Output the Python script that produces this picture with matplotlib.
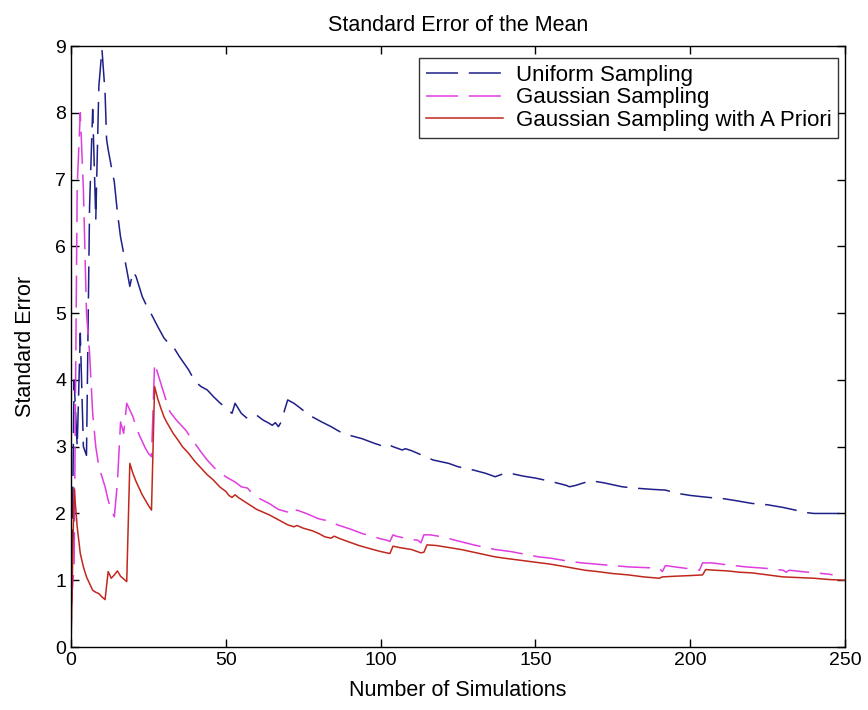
import matplotlib
matplotlib.use("Agg")
import matplotlib.pyplot as plt

plt.rcParams['font.family'] = ['Liberation Sans', 'DejaVu Sans']

title = "Standard Error of the Mean"
xlabel = "Number of Simulations"
ylabel = "Standard Error"
labels = ["Uniform Sampling", "Gaussian Sampling", "Gaussian Sampling with A Priori"]
xticks = [0, 50, 100, 150, 200, 250]
yticks = [0, 1, 2, 3, 4, 5, 6, 7, 8, 9]

uniform_x = [0, 1, 2, 3, 4, 5, 6, 7, 8, 9, 10, 11, 11.5, 12, 13, 14, 15, 16, 17, 18, 19,
             20, 21, 22, 23, 24, 26, 28, 30, 32, 33, 35, 38, 40, 42, 44, 46, 48, 50, 52,
             53, 55, 57, 60, 62, 64, 65, 66, 67, 68, 69, 70, 72, 74, 77, 81, 84, 87, 90,
             94, 98, 100, 101, 102, 104, 107, 108, 110, 113, 117, 122, 125, 130, 134, 137,
             140, 142, 146, 150, 155, 160, 161, 163, 165, 168, 172, 178, 182, 188, 192,
             196, 200, 206, 211, 215, 220, 225, 230, 234, 238, 240, 250]
uniform_y = [0, 4.0, 3.0, 4.7, 3.0, 2.87, 6.6, 8.05, 6.4, 8.4, 8.95, 8.3, 7.6, 7.45, 7.2,
             6.96, 6.5, 6.14, 5.9, 5.65, 5.4, 5.62, 5.55, 5.4, 5.25, 5.15, 4.98, 4.8, 4.63,
             4.52, 4.5, 4.35, 4.15, 3.98, 3.9, 3.85, 3.75, 3.66, 3.58, 3.5, 3.65, 3.5, 3.42,
             3.47, 3.4, 3.35, 3.32, 3.36, 3.3, 3.38, 3.55, 3.7, 3.65, 3.58, 3.47, 3.37, 3.3,
             3.22, 3.17, 3.12, 3.05, 3.02, 3.05, 3.04, 3.0, 2.95, 2.97, 2.94, 2.88, 2.8,
             2.75, 2.7, 2.65, 2.6, 2.55, 2.6, 2.6, 2.56, 2.53, 2.48, 2.42, 2.4, 2.42, 2.45,
             2.49, 2.46, 2.4, 2.38, 2.36, 2.35, 2.3, 2.27, 2.24, 2.22, 2.19, 2.15, 2.13,
             2.09, 2.05, 2.01, 2.0, 2.0]

gauss_x = [0, 1, 2, 3, 4, 5, 6, 7, 8, 9, 10, 11, 12, 13, 14, 15, 16, 17, 18, 19, 20, 21,
           22, 23, 24, 25, 26, 27, 28, 29, 30, 31, 32, 34, 36, 37, 40, 42, 44, 47, 50, 53,
           55, 57, 58, 61, 64, 67, 70, 71, 72, 73, 76, 80, 82, 84, 86, 90, 94, 98, 100,
           102, 103, 104, 105, 107, 110, 112, 113, 114, 116, 120, 124, 130, 137, 142, 151,
           155, 160, 165, 170, 175, 180, 185, 190, 191, 192, 195, 200, 203, 204, 207, 212,
           218, 224, 230, 231, 232, 238, 245, 246]
gauss_y = [0.6, 1.2, 6.9, 8.0, 6.85, 5.0, 4.4, 3.5, 3.0, 2.7, 2.55, 2.4, 2.2, 2.05, 1.95,
           2.47, 3.37, 3.2, 3.65, 3.55, 3.45, 3.3, 3.18, 3.08, 2.98, 2.9, 2.85, 4.25, 4.1,
           3.95, 3.8, 3.65, 3.52, 3.4, 3.3, 3.25, 3.05, 2.92, 2.8, 2.65, 2.55, 2.47, 2.4,
           2.38, 2.33, 2.22, 2.15, 2.06, 2.02, 1.98, 2.04, 2.05, 2.0, 1.92, 1.9, 1.88, 1.83,
           1.77, 1.7, 1.65, 1.62, 1.6, 1.58, 1.68, 1.66, 1.64, 1.61, 1.6, 1.56, 1.68, 1.68,
           1.65, 1.6, 1.53, 1.46, 1.43, 1.35, 1.33, 1.29, 1.26, 1.24, 1.22, 1.2, 1.19, 1.18,
           1.13, 1.22, 1.2, 1.17, 1.15, 1.26, 1.26, 1.23, 1.2, 1.18, 1.15, 1.12, 1.15, 1.12,
           1.09, 1.08]

prior_x = [0, 1, 2, 3, 4, 5, 6, 7, 8, 9, 10, 11, 12, 13, 14, 15, 16, 17, 18, 19, 20, 21,
           22, 23, 24, 25, 26, 27, 28, 29, 30, 31, 33, 35, 36, 38, 40, 42, 44, 46, 48, 50,
           51, 52, 53, 54, 56, 58, 60, 62, 64, 66, 68, 70, 72, 73, 75, 78, 80, 82, 84, 85,
           87, 90, 93, 96, 100, 103, 104, 106, 110, 113, 114, 115, 118, 122, 126, 130, 137,
           140, 145, 150, 155, 160, 166, 170, 175, 180, 185, 190, 191, 195, 200, 204, 205,
           208, 212, 216, 220, 225, 230, 235, 240, 245, 250]
prior_y = [0, 2.38, 1.8, 1.4, 1.2, 1.05, 0.95, 0.85, 0.82, 0.8, 0.75, 0.71, 1.13, 1.03,
           1.08, 1.14, 1.06, 1.02, 0.98, 2.75, 2.6, 2.48, 2.38, 2.28, 2.2, 2.12, 2.05, 3.9,
           3.72, 3.58, 3.45, 3.36, 3.2, 3.07, 3.0, 2.9, 2.78, 2.68, 2.58, 2.5, 2.4, 2.33,
           2.27, 2.24, 2.28, 2.24, 2.18, 2.12, 2.06, 2.02, 1.98, 1.93, 1.88, 1.83, 1.8, 1.82,
           1.78, 1.74, 1.7, 1.65, 1.63, 1.66, 1.62, 1.57, 1.52, 1.48, 1.43, 1.4, 1.51, 1.49,
           1.46, 1.41, 1.42, 1.53, 1.52, 1.49, 1.46, 1.42, 1.35, 1.33, 1.3, 1.27, 1.24, 1.2,
           1.15, 1.13, 1.1, 1.08, 1.05, 1.03, 1.05, 1.06, 1.07, 1.08, 1.16, 1.15, 1.14,
           1.12, 1.11, 1.08, 1.05, 1.04, 1.03, 1.01, 1.0]

fig = plt.figure(figsize=(8.68, 7.10), dpi=100)
ax = fig.add_axes([0.0818, 0.0887, 0.8917, 0.8465])

dash = (21, 7)
ax.plot(uniform_x, uniform_y, color='#1f1f8a', lw=1.1, dashes=dash, label=labels[0])
ax.plot(gauss_x, gauss_y, color='#e03ce0', lw=1.1, dashes=dash, label=labels[1])
ax.plot(prior_x, prior_y, color='#c0281e', lw=1.1, label=labels[2])

ax.set_xlim(0, 250)
ax.set_ylim(0, 9)
ax.set_xticks(xticks)
ax.set_yticks(yticks)
ax.tick_params(direction='in', top=True, right=True, length=6, width=1,
               labelsize=14, colors='black')
for s in ax.spines.values():
    s.set_linewidth(1.0)
    s.set_color('black')

ax.set_title(title, fontsize=15.5, pad=11)
ax.set_xlabel(xlabel, fontsize=15.5, labelpad=8)
ax.set_ylabel(ylabel, fontsize=15.5, labelpad=14)

leg = ax.legend(loc='upper right', bbox_to_anchor=(0.991, 0.98), borderaxespad=0,
                fontsize=16, frameon=True, fancybox=False, edgecolor='black',
                handlelength=3.5, handletextpad=0.55, labelspacing=0.08,
                borderpad=0.3)
leg.get_frame().set_linewidth(1.0)

fig.savefig("out.png", dpi=100)
